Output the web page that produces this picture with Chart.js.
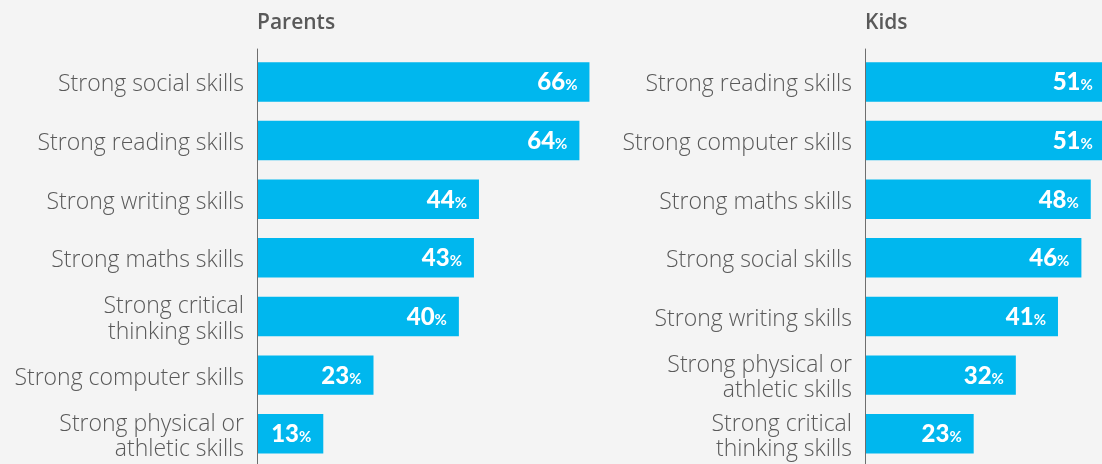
<!DOCTYPE html>
<html>
<head>
<meta charset="utf-8">
<script src="https://cdn.jsdelivr.net/npm/chart.js@4/dist/chart.umd.min.js"></script>
<style>
  body { margin: 0; background: #f4f4f4; }
  #wrap { position: relative; width: 1102px; height: 464px; overflow: hidden; }
  .box { position: absolute; top: 0; height: 464px; }
</style>
</head>
<body>
<div id="wrap">
  <div class="box" style="left:0;width:600px"><canvas id="parents"></canvas></div>
  <div class="box" style="left:600px;width:502px"><canvas id="kids"></canvas></div>
</div>
<script>
// Data
const parentsSkills = [
  "Strong social skills",
  "Strong reading skills",
  "Strong writing skills",
  "Strong maths skills",
  ["Strong critical", "thinking skills"],
  "Strong computer skills",
  ["Strong physical or", "athletic skills"]
];
const parentsValues = [66, 64, 44, 43, 40, 23, 13];

const kidsSkills = [
  "Strong reading skills",
  "Strong computer skills",
  "Strong maths skills",
  "Strong social skills",
  "Strong writing skills",
  ["Strong physical or", "athletic skills"],
  ["Strong critical", "thinking skills"]
];
const kidsValues = [51, 51, 48, 46, 41, 32, 23];

const barColor = "#00b7ee";
const textColor = "#595959";

// title, axis line and value labels
const decorPlugin = {
  id: "decor",
  afterDatasetsDraw(chart, args, opts) {
    const ctx = chart.ctx;
    const area = chart.chartArea;
    ctx.save();

    // axis line
    ctx.strokeStyle = "#6e6e6e";
    ctx.lineWidth = 1;
    ctx.beginPath();
    ctx.moveTo(area.left - 0.5, area.top - 4);
    ctx.lineTo(area.left - 0.5, chart.height);
    ctx.stroke();

    // title
    ctx.fillStyle = textColor;
    ctx.font = "600 21px 'Open Sans'";
    ctx.textAlign = "left";
    ctx.textBaseline = "alphabetic";
    ctx.fillText(opts.title, area.left - 1, 29);

    // value labels
    const meta = chart.getDatasetMeta(0);
    const values = chart.data.datasets[0].data;
    ctx.fillStyle = "#ffffff";
    meta.data.forEach((bar, i) => {
      const xEnd = bar.x - 12;
      const yBase = bar.y + 8.5;
      ctx.textAlign = "right";
      ctx.font = "bold 15px Lato";
      ctx.fillText("%", xEnd, yBase);
      const pw = ctx.measureText("%").width;
      ctx.font = "900 24px Lato";
      ctx.fillText(String(values[i]), xEnd - pw, yBase);
    });
    ctx.restore();
  }
};

function makeChart(id, labels, values, title, axisWidth, maxVal) {
  const ctx = document.getElementById(id).getContext("2d");
  return new Chart(ctx, {
    type: "bar",
    data: {
      labels: labels,
      datasets: [
        {
          data: values,
          backgroundColor: barColor,
          borderWidth: 0,
          barPercentage: 0.673,
          categoryPercentage: 1
        }
      ]
    },
    options: {
      indexAxis: "y",
      responsive: true,
      maintainAspectRatio: false,
      animation: false,
      layout: { padding: { top: 52.6, bottom: 0.9, left: 0, right: 0 } },
      plugins: {
        legend: { display: false },
        tooltip: { enabled: false },
        decor: { title: title }
      },
      scales: {
        x: {
          display: false,
          min: 0,
          max: maxVal
        },
        y: {
          afterFit: scale => {
            scale.width = axisWidth;
            scale.paddingTop = 0;
            scale.paddingBottom = 0;
          },
          grid: { display: false, drawTicks: false },
          border: { display: false },
          ticks: {
            color: textColor,
            padding: 14,
            labelOffset: 3,
            font: { family: "'Open Sans'", size: 23, weight: "300", lineHeight: 1.1 }
          }
        }
      }
    },
    plugins: [decorPlugin]
  });
}

makeChart("parents", parentsSkills, parentsValues, "Parents", 258, 68.1);
makeChart("kids", kidsSkills, kidsValues, "Kids", 266, 50.4);
</script>
</body>
</html>
